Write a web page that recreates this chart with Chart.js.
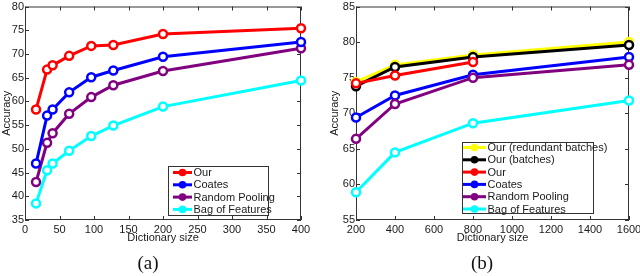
<!DOCTYPE html>
<html>
<head>
    <title>Accuracy vs dictionary size</title>
    <script src="https://cdn.jsdelivr.net/npm/chart.js@4/dist/chart.umd.min.js"></script>
    <style>
        * { margin: 0; padding: 0; box-sizing: border-box; }
        body { width: 640px; height: 276px; background: #fff; position: relative; overflow: hidden; }
        canvas { position: absolute; top: 0; }
        #chartA { left: 0; }
        #chartB { left: 320px; }
        .caption {
            position: absolute;
            top: 252px;
            font-family: "Liberation Serif", "DejaVu Serif", serif;
            font-size: 19px;
            color: #111;
            transform: translateX(-50%);
        }
    </style>
</head>
<body>
    <canvas id="chartA" width="320" height="276"></canvas>
    <canvas id="chartB" width="320" height="276"></canvas>
    <div class="caption" style="left:148px">(a)</div>
    <div class="caption" style="left:482px">(b)</div>

    <script>
        // (a) dictionary sizes and accuracies
        const sizesA = [16, 32, 40, 64, 96, 128, 200, 400];
        const ourA = [58.3, 66.7, 67.6, 69.6, 71.7, 71.9, 74.2, 75.4];
        const coatesA = [46.9, 57.0, 58.3, 61.9, 65.1, 66.5, 69.4, 72.5];
        const randomA = [43.0, 51.3, 53.3, 57.4, 60.9, 63.4, 66.4, 71.2];
        const bofA = [38.5, 45.5, 46.9, 49.6, 52.7, 54.9, 58.9, 64.4];

        // (b)
        const sizesB = [200, 400, 800, 1600];
        const redundantB = [74.4, 76.8, 78.2, 80.0];
        const batchesB = [73.8, 76.5, 77.9, 79.6];
        const ourB = [74.2, 75.3, 77.2];
        const coatesB = [69.4, 72.5, 75.4, 77.9];
        const randomB = [66.4, 71.3, 75.0, 76.8];
        const bofB = [58.9, 64.5, 68.6, 71.8];

        const FONT = 'Liberation Sans, Arial, sans-serif';
        const TXT = '#1a1a1a';

        function pts(xs, ys) {
            return ys.map((y, i) => ({ x: xs[i], y: y }));
        }

        function series(label, color, xs, ys, order) {
            return {
                label: label,
                data: pts(xs, ys),
                borderColor: color,
                backgroundColor: color,
                borderWidth: 3,
                pointRadius: 4,
                pointBorderWidth: 2.5,
                pointBackgroundColor: '#fff',
                pointBorderColor: color,
                tension: 0,
                clip: false,
                order: order
            };
        }

        // box around the plot, ticks pointing inward on all four sides
        const frameTicks = {
            id: 'frameTicks',
            beforeDatasetsDraw(chart) {
                const { ctx, chartArea: a, scales } = chart;
                ctx.save();
                ctx.strokeStyle = '#333';
                ctx.lineWidth = 1;
                ctx.strokeRect(a.left + 0.5, a.top + 0.5, a.right - a.left - 1, a.bottom - a.top - 1);
                ctx.beginPath();
                scales.x.ticks.forEach(t => {
                    const px = Math.round(scales.x.getPixelForValue(t.value)) + 0.5;
                    ctx.moveTo(px, a.bottom); ctx.lineTo(px, a.bottom - 4);
                    ctx.moveTo(px, a.top); ctx.lineTo(px, a.top + 4);
                });
                scales.y.ticks.forEach(t => {
                    const py = Math.round(scales.y.getPixelForValue(t.value)) + 0.5;
                    ctx.moveTo(a.left, py); ctx.lineTo(a.left + 4, py);
                    ctx.moveTo(a.right, py); ctx.lineTo(a.right - 4, py);
                });
                ctx.stroke();
                ctx.restore();
            }
        };

        // MATLAB-like legend box inside the plot
        const boxLegend = {
            id: 'boxLegend',
            afterDraw(chart, args, o) {
                const ctx = chart.ctx;
                ctx.save();
                ctx.fillStyle = '#fff';
                ctx.fillRect(o.x, o.y, o.w, o.h);
                ctx.strokeStyle = '#333';
                ctx.lineWidth = 1;
                ctx.strokeRect(o.x + 0.5, o.y + 0.5, o.w, o.h);
                ctx.font = '11px ' + FONT;
                ctx.textBaseline = 'middle';
                chart.data.datasets.forEach((ds, i) => {
                    const cy = o.y + o.first + i * o.row;
                    ctx.strokeStyle = ds.borderColor;
                    ctx.lineWidth = 3;
                    ctx.beginPath();
                    ctx.moveTo(o.x0, cy); ctx.lineTo(o.x1, cy);
                    ctx.stroke();
                    ctx.fillStyle = ds.borderColor;
                    ctx.beginPath();
                    ctx.arc((o.x0 + o.x1) / 2, cy, 3.8, 0, Math.PI * 2);
                    ctx.fill();
                    ctx.fillStyle = TXT;
                    ctx.fillText(ds.label, o.x1 + 1.5, cy + 0.5);
                });
                ctx.restore();
            }
        };

        function makeChart(id, datasets, xr, yr, yWidth, titleGap, pad, legend) {
            new Chart(document.getElementById(id), {
                type: 'line',
                data: { datasets: datasets },
                plugins: [frameTicks, boxLegend],
                options: {
                    responsive: false,
                    animation: false,
                    layout: { padding: pad },
                    plugins: {
                        legend: { display: false },
                        tooltip: { enabled: false },
                        boxLegend: legend
                    },
                    scales: {
                        x: {
                            type: 'linear',
                            min: xr[0], max: xr[1],
                            grid: { display: false, drawTicks: false },
                            border: { display: false },
                            ticks: {
                                stepSize: xr[2], padding: 3, color: TXT, font: { family: FONT, size: 11 },
                                callback: v => String(v)
                            },
                            title: { display: true, text: 'Dictionary size', color: TXT, font: { family: FONT, size: 11 }, padding: { top: 0, bottom: 31 } },
                            afterFit(s) { s.height = 56; s.paddingLeft = 0; s.paddingRight = 0; }
                        },
                        y: {
                            min: yr[0], max: yr[1],
                            grid: { display: false, drawTicks: false },
                            border: { display: false },
                            ticks: { stepSize: 5, padding: 1, color: TXT, font: { family: FONT, size: 11 } },
                            title: { display: true, text: 'Accuracy', color: TXT, font: { family: FONT, size: 11 }, padding: { top: titleGap, bottom: 0 } },
                            afterFit(s) { s.width = yWidth; s.paddingTop = 0; s.paddingBottom = 0; }
                        }
                    }
                }
            });
        }

        makeChart('chartA', [
            series('Our', '#ff0000', sizesA, ourA, 1),
            series('Coates', '#0000ff', sizesA, coatesA, 2),
            series('Random Pooling', '#800080', sizesA, randomA, 3),
            series('Bag of Features', '#00ffff', sizesA, bofA, 4)
        ], [0, 400, 50], [35, 80], 25, 0, { top: 3, right: 19, left: 0, bottom: 0 },
        { x: 168, y: 166, w: 100, h: 49, first: 6.5, row: 12.3, x0: 173, x1: 192 });

        makeChart('chartB', [
            series('Our (redundant batches)', '#ffff00', sizesB, redundantB, 6),
            series('Our (batches)', '#000000', sizesB, batchesB, 5),
            series('Our', '#ff0000', sizesB, ourB, 4),
            series('Coates', '#0000ff', sizesB, coatesB, 3),
            series('Random Pooling', '#800080', sizesB, randomB, 2),
            series('Bag of Features', '#00ffff', sizesB, bofB, 1)
        ], [200, 1600, 200], [55, 85], 36, 8, { top: 5, right: 11, left: 0, bottom: 0 },
        { x: 142, y: 142, w: 131, h: 71, first: 5.5, row: 12.3, x0: 143, x1: 166 });
    </script>
</body>
</html>
